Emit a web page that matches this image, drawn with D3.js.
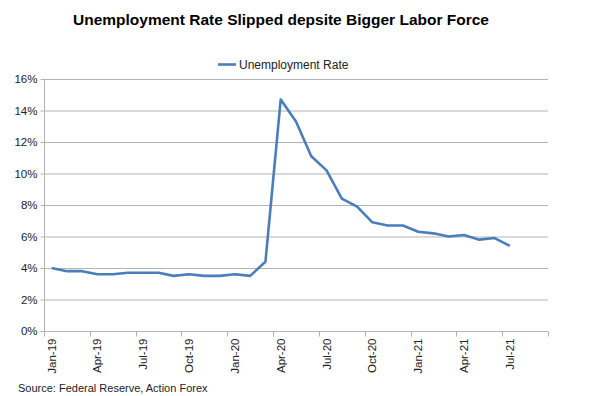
<!DOCTYPE html>
<html><head><meta charset="utf-8">
<script src="https://cdn.jsdelivr.net/npm/d3@7"></script>
<style>body{margin:0;background:#fff}svg{display:block;font-family:Arial,"Liberation Sans",sans-serif}</style>
</head><body><svg id="c" width="600" height="396"></svg>
<script>
const months = ["Jan-19","Feb-19","Mar-19","Apr-19","May-19","Jun-19","Jul-19","Aug-19","Sep-19","Oct-19","Nov-19","Dec-19",
"Jan-20","Feb-20","Mar-20","Apr-20","May-20","Jun-20","Jul-20","Aug-20","Sep-20","Oct-20","Nov-20","Dec-20",
"Jan-21","Feb-21","Mar-21","Apr-21","May-21","Jun-21","Jul-21","Aug-21","Sep-21"];
const unemployment = [4.0,3.8,3.8,3.6,3.6,3.7,3.7,3.7,3.5,3.6,3.5,3.5,3.6,3.5,4.4,14.7,13.3,11.1,10.2,8.4,7.9,6.9,6.7,6.7,6.3,6.2,6.0,6.1,5.8,5.9,5.4];
const yTicks = [0,2,4,6,8,10,12,14,16];
const tickLabels = ["Jan-19","Apr-19","Jul-19","Oct-19","Jan-20","Apr-20","Jul-20","Oct-20","Jan-21","Apr-21","Jul-21"];

const svg = d3.select("#c");
const L=44,R=548,T=79,B=331;
const x = d3.scaleBand().domain(months).range([L,R]).paddingInner(0).paddingOuter(0);
const y = d3.scaleLinear().domain([0,16]).range([B,T]);
const grid="#b3b3b3";

svg.append("text").attr("x",281).attr("y",25).attr("text-anchor","middle")
  .attr("font-size",15.5).attr("font-weight","bold").text("Unemployment Rate Slipped depsite Bigger Labor Force");

// gridlines
svg.append("g").selectAll("line").data(yTicks.filter(d=>d>0)).join("line")
  .attr("x1",L).attr("x2",R).attr("y1",d=>y(d)+0.5).attr("y2",d=>y(d)+0.5)
  .attr("stroke",grid).attr("stroke-width",1);

// y axis
const ya = svg.append("g").attr("transform",`translate(${L+0.5},0)`)
  .call(d3.axisLeft(y).tickValues(yTicks).tickFormat(d=>d+"%").tickSize(4).tickPadding(3));
ya.select(".domain").attr("stroke",grid).attr("d",`M0,${T}V${B}`);
ya.selectAll(".tick line").attr("stroke",grid);
ya.selectAll("text").attr("font-size",11.5).attr("fill","#222").attr("font-family","Arial,'Liberation Sans',sans-serif");

// x axis
const xa = svg.append("g").attr("transform",`translate(0,${B+0.5})`);
xa.append("line").attr("x1",L).attr("x2",R).attr("stroke",grid);
const tickPos = months.filter((m,i)=>i%3===0).map(m=>x(m)).concat([R]);
xa.selectAll("line.t").data(tickPos).join("line").attr("class","t")
  .attr("x1",d=>Math.round(d)+0.5).attr("x2",d=>Math.round(d)+0.5).attr("y1",0).attr("y2",5).attr("stroke",grid);
xa.selectAll("text").data(tickLabels).join("text")
  .attr("transform",d=>`translate(${x(d)+x.bandwidth()/2+4},7) rotate(-90)`)
  .attr("text-anchor","end").attr("font-size",11.5).attr("fill","#222").text(d=>d);

// line
const pts = unemployment.map((v,i)=>[months[i],v]);
svg.append("path").datum(pts).attr("fill","none").attr("stroke","#4a7ebb").attr("stroke-width",2.6)
  .attr("stroke-linejoin","round")
  .attr("d",d3.line().x(d=>x(d[0])+x.bandwidth()/2).y(d=>y(d[1])));

// legend
svg.append("line").attr("x1",218).attr("x2",236).attr("y1",64.5).attr("y2",64.5).attr("stroke","#4a7ebb").attr("stroke-width",2.6);
svg.append("text").attr("x",239).attr("y",68.5).attr("font-size",12).attr("fill","#222").text("Unemployment Rate");

svg.append("text").attr("x",18).attr("y",392).attr("font-size",11).attr("fill","#222").text("Source: Federal Reserve, Action Forex");
</script></body></html>
